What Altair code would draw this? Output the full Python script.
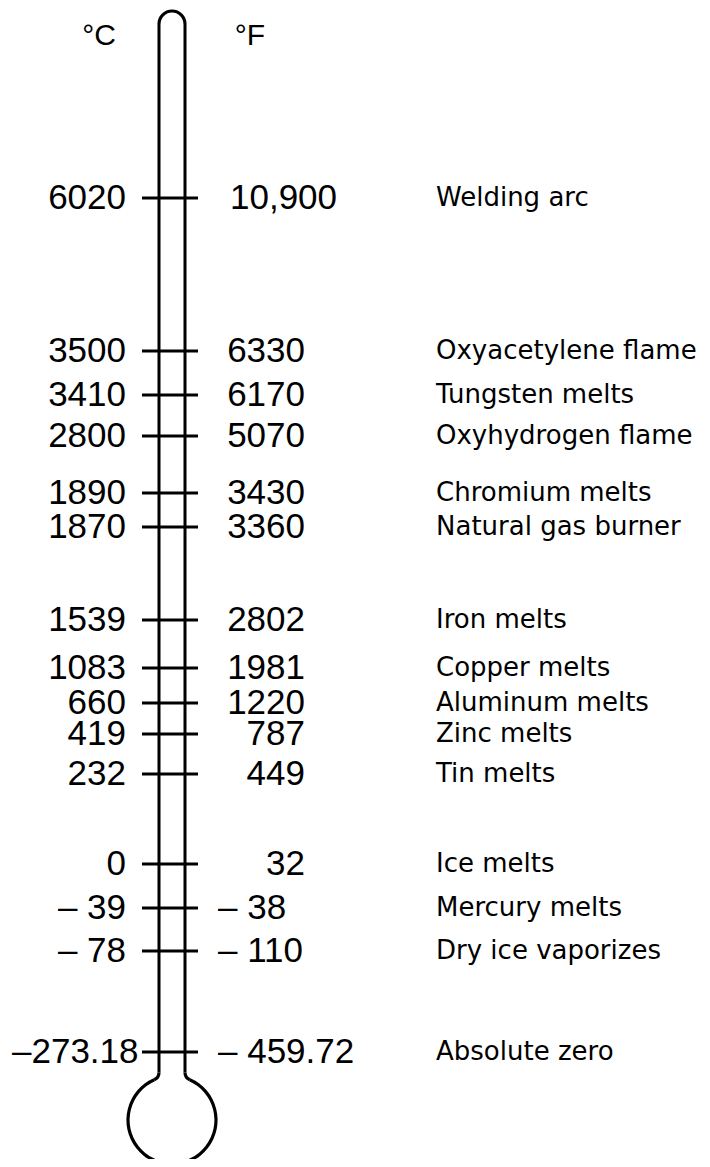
import math
import altair as alt
import pandas as pd

# ---- data ----
celsius_labels = ["6020", "3500", "3410", "2800", "1890", "1870", "1539", "1083",
                  "660", "419", "232", "0", "– 39", "– 78", "–273.18"]
fahrenheit_labels = ["10,900", "6330", "6170", "5070", "3430", "3360", "2802", "1981",
                     "1220", "787", "449", "32", "– 38", "– 110", "– 459.72"]
events = ["Welding arc", "Oxyacetylene flame", "Tungsten melts", "Oxyhydrogen flame",
          "Chromium melts", "Natural gas burner", "Iron melts", "Copper melts",
          "Aluminum melts", "Zinc melts", "Tin melts", "Ice melts", "Mercury melts",
          "Dry ice vaporizes", "Absolute zero"]
# schematic position of each mark along the (non-linear) thermometer scale
scale_pos = [198, 351, 395, 436, 493, 527, 620, 668, 703, 734, 774, 864, 908, 951, 1052]
headers = ["°C", "°F"]

df = pd.DataFrame({"c": celsius_labels, "f": fahrenheit_labels,
                   "event": events, "pos": scale_pos})

W, H = 694, 1151
OFF = 8  # page margin
yscale = alt.Scale(domain=[OFF, OFF + H], reverse=True, nice=False, zero=False)
Y = alt.Y("pos:Q", scale=yscale, axis=None)

base = alt.Chart(df)
NUM_FONT = dict(font="Liberation Sans", fontSize=35, color="black", baseline="middle")

ticks = base.mark_rule(strokeWidth=3, color="black").encode(
    y=Y, x=alt.value(142 - OFF), x2=alt.value(198 - OFF))

long_c = "length(datum.c) > 5"
c_text = base.transform_filter("!(" + long_c + ")").mark_text(
    align="right", **NUM_FONT).encode(y=Y, x=alt.value(126 - OFF), text="c:N")
c_long = base.transform_filter(long_c).mark_text(
    align="left", **NUM_FONT).encode(y=Y, x=alt.value(12 - OFF), text="c:N")

neg_f = "indexof(datum.f, '–') == 0"
wide_f = "indexof(datum.f, ',') >= 0"
f_text = base.transform_filter("!(" + neg_f + ") && !(" + wide_f + ")").mark_text(
    align="right", **NUM_FONT).encode(y=Y, x=alt.value(305 - OFF), text="f:N")
f_neg = base.transform_filter(neg_f).mark_text(
    align="left", **NUM_FONT).encode(y=Y, x=alt.value(218 - OFF), text="f:N")
f_wide = base.transform_filter(wide_f).mark_text(
    align="left", **NUM_FONT).encode(y=Y, x=alt.value(230 - OFF), text="f:N")

e_text = base.mark_text(align="left", baseline="middle", font="DejaVu Sans",
                        fontSize=26, color="black").encode(
    y=Y, x=alt.value(436 - OFF), text="event:N")

hdr = pd.DataFrame({"h": headers})
hdr_c = alt.Chart(hdr).transform_filter(alt.datum.h == headers[0]).mark_text(
    align="center", baseline="middle", font="Liberation Sans", fontSize=30,
    color="black").encode(x=alt.value(99 - OFF), y=alt.value(36 - OFF), text="h:N")
hdr_f = alt.Chart(hdr).transform_filter(alt.datum.h == headers[1]).mark_text(
    align="center", baseline="middle", font="Liberation Sans", fontSize=30,
    color="black").encode(x=alt.value(250 - OFF), y=alt.value(36 - OFF), text="h:N")

# ---- thermometer outline (decorative geometry) ----
one = pd.DataFrame({"k": [0]})
tube_l, tube_r = 159, 185
cx = (tube_l + tube_r) / 2
tube_top = 24
bulb_cy, bulb_r = 1120, 44
fil_r = 8
dx = cx - (tube_l - fil_r)
dy = math.sqrt((bulb_r + fil_r) ** 2 - dx ** 2)
fil_cy = bulb_cy - dy
phi = math.atan2(dx, dy)
lw = 1.6

tube_lines = []
for xx in (tube_l, tube_r):
    tube_lines.append(alt.Chart(one).mark_rule(strokeWidth=3, color="black").encode(
        x=alt.value(xx - OFF), y=alt.value(tube_top - OFF), y2=alt.value(fil_cy - OFF)))

def ring(x, y, r, t0, t1):
    return alt.Chart(one).mark_arc(
        color="black", radius=r + lw, radius2=r - lw, theta=t0, theta2=t1
    ).encode(x=alt.value(x - OFF), y=alt.value(y - OFF))

cap = ring(cx, tube_top, (tube_r - tube_l) / 2, 1.5 * math.pi, 2.5 * math.pi)
bulb = ring(cx, bulb_cy, bulb_r, phi, 2 * math.pi - phi)
fil_l = ring(tube_l - fil_r, fil_cy, fil_r, 0.5 * math.pi, math.pi - phi)
fil_rt = ring(tube_r + fil_r, fil_cy, fil_r, math.pi + phi, 1.5 * math.pi)

chart = alt.layer(
    *tube_lines, cap, bulb, fil_l, fil_rt, ticks,
    c_text, c_long, f_text, f_neg, f_wide, e_text, hdr_c, hdr_f
).properties(
    width=W, height=H, padding=0,
    autosize=alt.AutoSizeParams(type="none")
).configure(background="white").configure_view(stroke=None)

chart.save("out.html", embed_options={"renderer": "svg", "actions": False})
